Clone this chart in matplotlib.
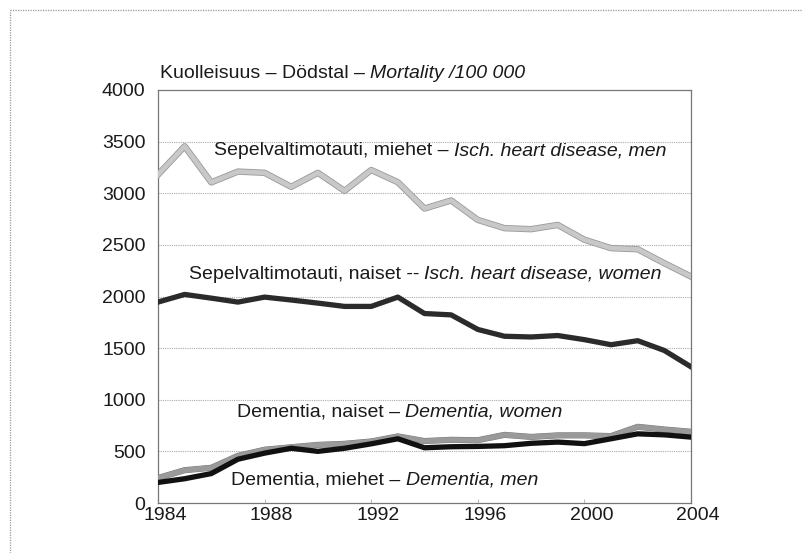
import matplotlib
matplotlib.use("Agg")
import matplotlib.pyplot as plt
import matplotlib.patheffects as pe
import matplotlib.transforms as mtransforms
from matplotlib.lines import Line2D

plt.rcParams['font.family'] = ['Liberation Sans', 'DejaVu Sans']

##################################
# Data
##################################
years = list(range(1984, 2005))

ihd_men = [3180, 3455, 3105, 3210, 3198, 3062, 3198, 3023, 3225, 3107, 2852,
           2930, 2742, 2662, 2652, 2693, 2550, 2468, 2458, 2322, 2193]
ihd_women = [1946, 2020, 1984, 1946, 1994, 1966, 1936, 1904, 1904, 1994, 1835,
             1822, 1681, 1615, 1608, 1622, 1582, 1533, 1572, 1477, 1319]
dem_women = [242, 318, 341, 457, 516, 540, 563, 573, 596, 645, 600,
             612, 608, 660, 640, 655, 655, 648, 738, 712, 690]
dem_men = [199, 235, 285, 424, 483, 530, 500, 530, 573, 622, 535,
           545, 548, 555, 578, 590, 575, 622, 670, 660, 638]

x_ticks = [1984, 1988, 1992, 1996, 2000, 2004]
y_ticks = [0, 500, 1000, 1500, 2000, 2500, 3000, 3500, 4000]

##################################
# Figure and axes
##################################
fig = plt.figure(figsize=(8.02, 5.53), dpi=100)
ax = fig.add_axes([158 / 802, 1 - 503 / 553, (691 - 158) / 802, (503 - 90) / 553])

# outer frame (only top and left edges show)
fig.add_artist(Line2D([10 / 802, 10 / 802], [0, 1 - 10 / 553], transform=fig.transFigure,
                      color='#999999', lw=0.9, ls=(0, (1, 1))))
fig.add_artist(Line2D([10 / 802, 1], [1 - 10 / 553, 1 - 10 / 553], transform=fig.transFigure,
                      color='#999999', lw=0.9, ls=(0, (1, 1))))

for y in y_ticks[1:-1]:
    ax.axhline(y, color='#aaaaaa', lw=0.8, ls=(0, (1, 1)), zorder=1)

outline = [pe.Stroke(linewidth=4.6, foreground='#999999'), pe.Normal()]
ax.plot(years, ihd_men, color='#c8c8c8', lw=3.4, zorder=3, path_effects=outline)
ax.plot(years, ihd_women, color='#2b2b2b', lw=3.8, zorder=3)
ax.plot(years, dem_women, color='#9a9a9a', lw=3.8, zorder=3,
        path_effects=[pe.Stroke(linewidth=4.4, foreground='#777777'), pe.Normal()])
ax.plot(years, dem_men, color='#111111', lw=3.8, zorder=4)

ax.set_xlim(1984, 2004)
ax.set_ylim(0, 4000)
ax.set_xticks(x_ticks)
ax.set_yticks(y_ticks)
ax.tick_params(axis='both', direction='in', length=3, color='#bbbbbb',
               labelsize=14, labelcolor='#1a1a1a')
ax.tick_params(axis='x', pad=3)
ax.tick_params(axis='y', pad=9, length=0)

offset = mtransforms.ScaledTranslation(7 / 100, 0, fig.dpi_scale_trans)
for lbl in ax.get_xticklabels():
    lbl.set_transform(lbl.get_transform() + offset)

for side in ['left', 'right', 'top', 'bottom']:
    ax.spines[side].set_color('#777777')
    ax.spines[side].set_linewidth(0.9)
    ax.spines[side].set_linestyle((0, (1, 1)))

##################################
# Texts
##################################
fs = 14

def two_part(x, y, a, b, size=fs, coords='data'):
    t = ax.annotate(a, xy=(x, y), xycoords=coords, fontsize=size, color='#1a1a1a',
                    va='center', ha='left', zorder=5, annotation_clip=False)
    ax.annotate(b, xy=(1, 0.5), xycoords=t, fontsize=size, style='italic',
                color='#1a1a1a', va='center', ha='left', zorder=5, annotation_clip=False)

two_part(0.003, 1.04, 'Kuolleisuus – Dödstal – ', 'Mortality /100 000', size=14,
         coords='axes fraction')
two_part(1986.1, 3410, 'Sepelvaltimotauti, miehet – ', 'Isch. heart disease, men')
two_part(1985.15, 2215, 'Sepelvaltimotauti, naiset -- ', 'Isch. heart disease, women')
two_part(1986.95, 880, 'Dementia, naiset – ', 'Dementia, women')
two_part(1986.75, 225, 'Dementia, miehet – ', 'Dementia, men')

fig.savefig('out.png', dpi=100)
